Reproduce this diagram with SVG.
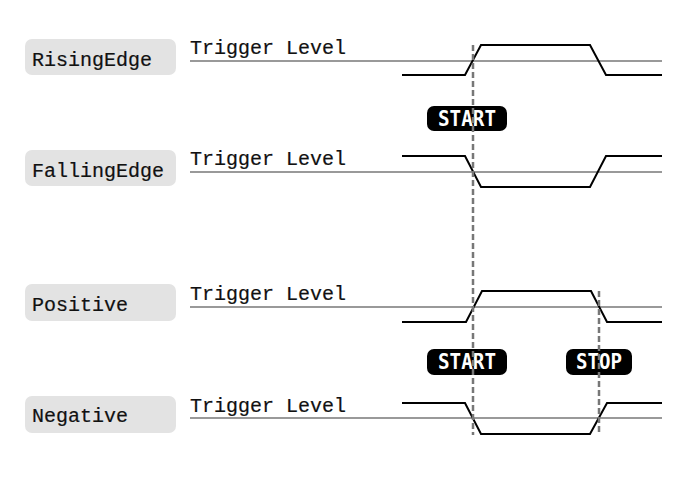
<svg xmlns="http://www.w3.org/2000/svg" width="700" height="480" viewBox="0 0 700 480">
<style>
.box{fill:#e3e3e3}
.lbl{font-family:"Liberation Mono","DejaVu Sans Mono",monospace;font-size:20px;fill:#111;stroke:#111;stroke-width:0.2}
.trig{stroke:#999;stroke-width:2;fill:none}
.sig{stroke:#000;stroke-width:2;fill:none}
.dash{stroke:#777;stroke-width:2.5;stroke-dasharray:6,3;fill:none}
.badge{fill:#000}
.btxt{font-family:"DejaVu Sans Mono","Liberation Mono",monospace;font-weight:bold;font-size:21px;fill:#fff;text-anchor:middle}
</style>
<rect width="700" height="480" fill="#fff"/>
<g id="rising">
<rect class="box" x="25" y="39" width="151" height="36" rx="7"/>
<text class="lbl" x="32" y="66">RisingEdge</text>
<text class="lbl" x="190" y="54">Trigger Level</text>
<line class="trig" x1="190" y1="61" x2="662" y2="61"/>
<polyline class="sig" points="402,75 465,75 481,45 590,45 606,75 662,75"/>
</g>
<g id="falling">
<rect class="box" x="25" y="150" width="151" height="36" rx="7"/>
<text class="lbl" x="32" y="177">FallingEdge</text>
<text class="lbl" x="190" y="165">Trigger Level</text>
<line class="trig" x1="190" y1="172" x2="662" y2="172"/>
<polyline class="sig" points="402,156 465,156 481,187 590,187 606,156 662,156"/>
</g>
<g id="positive">
<rect class="box" x="25" y="284" width="151" height="37" rx="7"/>
<text class="lbl" x="32" y="311">Positive</text>
<text class="lbl" x="190" y="300">Trigger Level</text>
<line class="trig" x1="190" y1="307" x2="662" y2="307"/>
<polyline class="sig" points="402,322 466,322 482,291 591,291 607,322 662,322"/>
</g>
<g id="negative">
<rect class="box" x="25" y="396" width="151" height="37" rx="7"/>
<text class="lbl" x="32" y="422">Negative</text>
<text class="lbl" x="190" y="412">Trigger Level</text>
<line class="trig" x1="190" y1="418" x2="662" y2="418"/>
<polyline class="sig" points="402,403 465,403 481,434 590,434 607,403 662,403"/>
</g>
<g id="start1">
<rect class="badge" x="427" y="106" width="80" height="25" rx="7"/>
<text class="btxt" x="467" y="126" textLength="58" lengthAdjust="spacingAndGlyphs">START</text>
</g>
<g id="start2">
<rect class="badge" x="427" y="349" width="80" height="26" rx="7"/>
<text class="btxt" x="467" y="369" textLength="58" lengthAdjust="spacingAndGlyphs">START</text>
</g>
<g id="stop">
<rect class="badge" x="566" y="349" width="66" height="26" rx="7"/>
<text class="btxt" x="599" y="369" textLength="46" lengthAdjust="spacingAndGlyphs">STOP</text>
</g>
<g id="connectors">
<line class="dash" x1="473" y1="45" x2="473" y2="435"/>
<line class="dash" x1="599" y1="291" x2="599" y2="435"/>
</g>
</svg>
